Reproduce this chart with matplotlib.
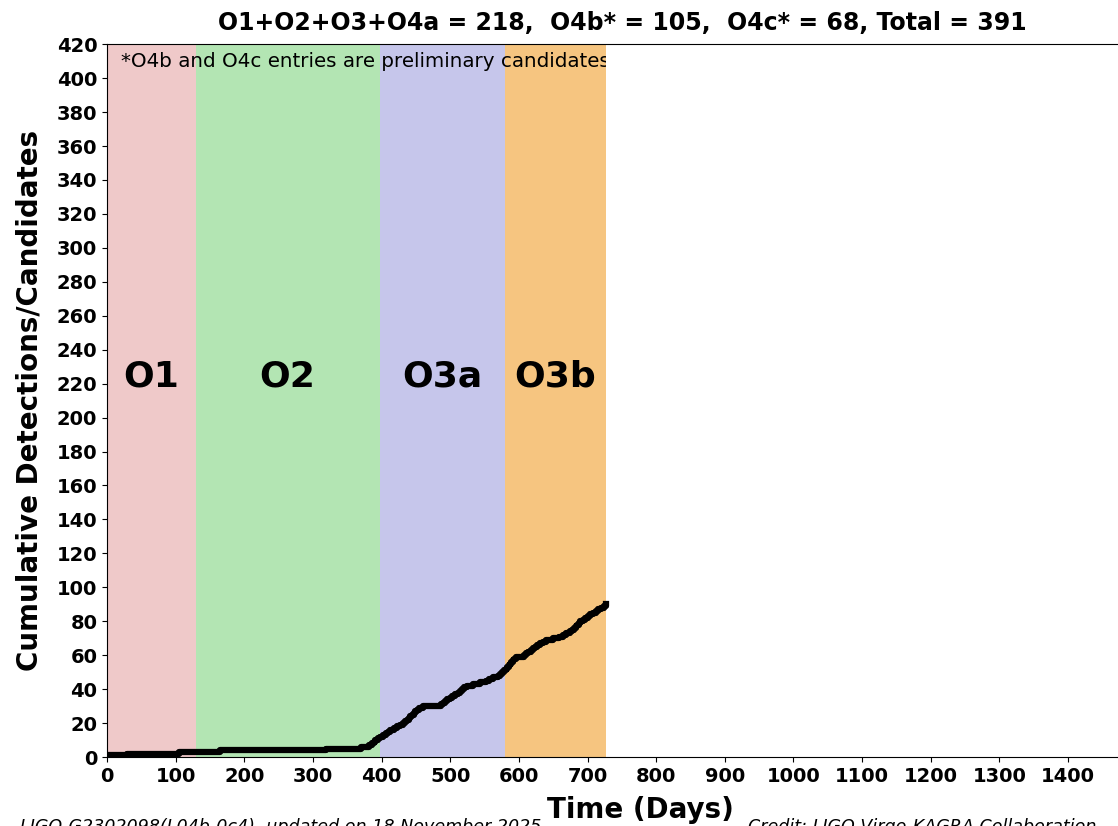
'''cumulative gravitational-wave detections vs time, one coloured band per observing run'''

import numpy as np
import matplotlib
matplotlib.use('Agg')
import matplotlib.pyplot as plt


# observing runs: name, start day, end day, colour
run_names = ['O1', 'O2', 'O3a', 'O3b']
run_start = [0, 129, 397, 580]
run_end = [129, 397, 580, 727]
run_colors = ['#efc9c9', '#b3e5b3', '#c6c6eb', '#f6c580']

# day of each new detection (cumulative count = position in list)
event_days = [0, 29, 105, 164, 319, 370, 381, 386, 389, 390, 395,
              398, 402, 406, 409, 412, 418, 423, 427, 431, 434, 437, 440,
              442, 445, 447, 449, 451, 455, 460, 487, 490, 493, 496, 499,
              503, 507, 511, 514, 517, 520, 524, 533, 543, 552, 557, 562,
              569, 573, 576, 578, 581,
              583, 585, 587, 589, 591, 593, 596, 608, 611, 614, 617, 620,
              623, 627, 631, 635, 640, 650, 659, 664, 669, 674, 678, 681,
              683, 685, 687, 689, 693, 697, 701, 704, 708, 712, 716, 720,
              724, 727]
end_day = 727

title = 'O1+O2+O3+O4a = 218,  O4b* = 105,  O4c* = 68, Total = 391'
note = '*O4b and O4c entries are preliminary candidates'
ref_text = 'LIGO-G2302098(L04b-0c4), updated on 18 November 2025'
credit = 'Credit: LIGO-Virgo-KAGRA Collaboration'


fig = plt.figure(figsize=(11.18, 8.26), dpi=100)
# axes run past the right edge of the figure, like the cropped original
ax = fig.add_axes([0.0957, 0.0835, 0.921, 0.863])

for name, s, e, c in zip(run_names, run_start, run_end, run_colors):
    ax.axvspan(s, e, color=c, lw=0, zorder=1)
    ax.text((s + e) / 2, 224, name, ha='center', va='center',
            fontsize=26, fontweight='bold', zorder=4)

counts = np.arange(1, len(event_days) + 1)
x = np.append(event_days, end_day)
y = np.append(counts, counts[-1])
ax.plot(x, y, drawstyle='steps-post', color='black', lw=4.5, zorder=3)

ax.text(21, 410, note, fontsize=14.3, va='center', ha='left', zorder=1.5)

# future part of the timeline is blank
ax.axvspan(end_day, 1500, color='white', lw=0, zorder=2)

ax.set_xlim(0, 1500)
ax.set_ylim(0, 420)
ax.set_xticks(np.arange(0, 1500, 100))
ax.set_yticks(np.arange(0, 421, 20))
ax.tick_params(labelsize=14)
for lab in ax.get_xticklabels() + ax.get_yticklabels():
    lab.set_fontweight('bold')

ax.set_ylabel('Cumulative Detections/Candidates', fontsize=20,
              fontweight='bold')
ax.yaxis.set_label_coords(-0.062, 0.5)
ax.set_title(title, fontsize=17, fontweight='bold', pad=10)

fig.text(0.5725, 0.019, 'Time (Days)', fontsize=20, fontweight='bold',
         ha='center', va='center')
fig.text(0.018, 0.0097, ref_text, fontsize=12.6, style='italic',
         ha='left', va='top')
fig.text(0.669, 0.0097, credit, fontsize=12.6, style='italic',
         ha='left', va='top')

fig.savefig('out.png', dpi=100)
